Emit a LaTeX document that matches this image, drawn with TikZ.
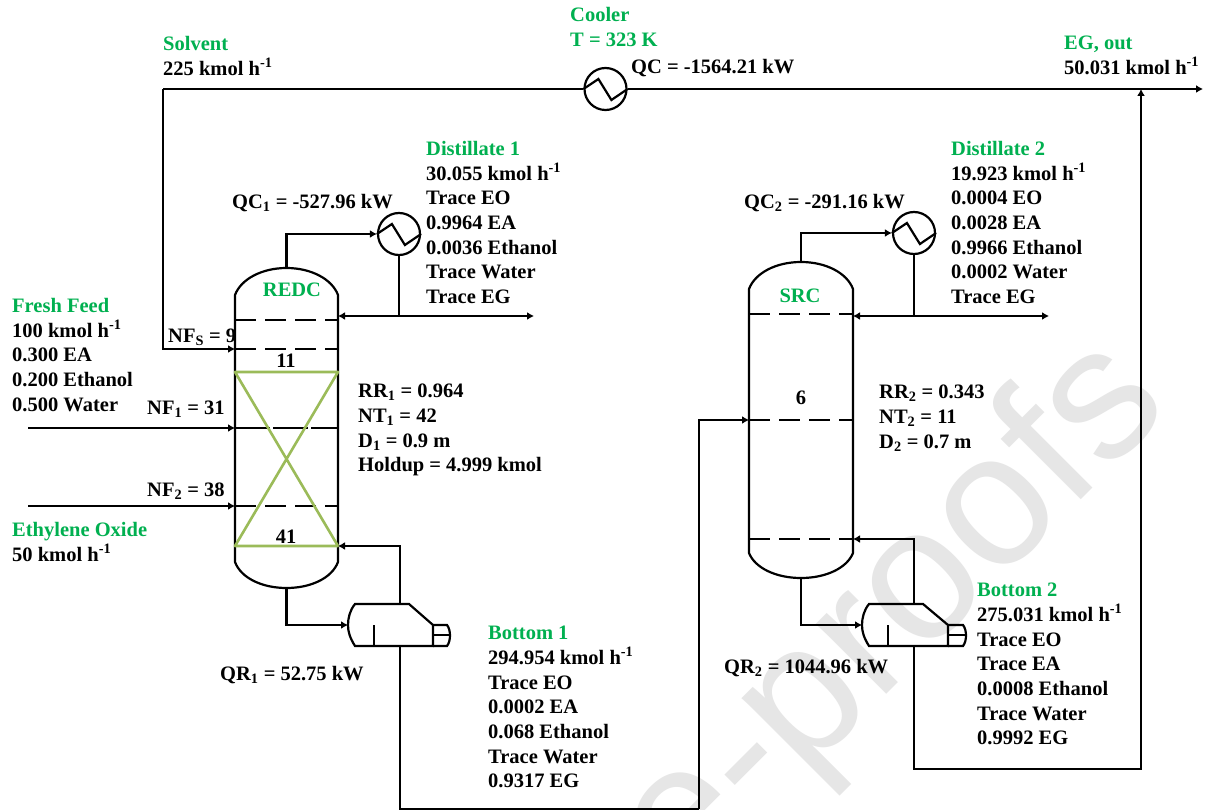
\documentclass[tikz,border=0pt]{standalone}
\usepackage{fontspec}
\usepackage{xcolor}
\setmainfont{Liberation Serif}
\setsansfont{Liberation Sans}
\usetikzlibrary{arrows.meta}
\definecolor{namegreen}{HTML}{00B050}
\definecolor{packgreen}{HTML}{9BBB59}
\definecolor{markgray}{HTML}{E6E6E6}
\tikzset{
  pipe/.style={line width=2.2pt,line join=miter},
  flow/.style={pipe,-{Latex[length=7pt,width=8pt]}},
  tray/.style={pipe,dash pattern=on 21pt off 9pt},
  packing/.style={line width=2.6pt,draw=packgreen,line join=round},
  exch/.style={circle,draw,line width=2.2pt,minimum size=42pt,inner sep=0pt},
  block/.style={anchor=north west,align=left,inner sep=0pt},
  tag/.style={anchor=west,inner sep=0pt},
  tagc/.style={inner sep=0pt},
}
\begin{document}
\begin{tikzpicture}[x=1pt,y=-1pt,every node/.style={font=\fontsize{20.5}{24.7}\selectfont\bfseries}]
\useasboundingbox (0,0) rectangle (1207,810);
\fill[white] (0,0) rectangle (1207,810);
\begin{scope}
\clip (0,0) rectangle (1207,810);
\node[anchor=base west,inner sep=0pt,text=markgray,rotate=45,font=\fontsize{188}{188}\selectfont\sffamily] (mark) at (685,896) {e-proofs};
\end{scope}
\coordinate (feedOne) at (28,428);
\coordinate (feedTwo) at (28,506);
\coordinate (redcL) at (235,295);
\coordinate (redcR) at (338,295);
\coordinate (redcTop) at (286.5,268);
\coordinate (redcBot) at (286.5,588);
\coordinate (redcRefl) at (338,316);
\coordinate (redcBoil) at (338,546);
\coordinate (redcSolv) at (235,349);
\coordinate (redcOne) at (235,428);
\coordinate (redcTwo) at (235,506);
\coordinate (srcTop) at (801,262);
\coordinate (srcBot) at (801,578);
\coordinate (srcRefl) at (853,316);
\coordinate (srcBoil) at (853,539);
\coordinate (srcFeed) at (749,420);
\coordinate (solvStart) at (163,89);
\coordinate (egEnd) at (1203,89);
\coordinate (distOne) at (534,316);
\coordinate (distTwo) at (1049,316);
\coordinate (rebOneIn) at (348,625);
\coordinate (rebOneTop) at (400,604);
\coordinate (rebOneBot) at (400,646);
\coordinate (rebTwoIn) at (862,625);
\coordinate (rebTwoTop) at (914,604);
\coordinate (rebTwoBot) at (914,646);
\coordinate (egJoin) at (1141,89);
\coordinate (linkCorner) at (699,809);
\node[exch] (cooler) at (605.5,89) {};
\node[exch] (condOne) at (399,234) {};
\node[exch] (condTwo) at (914,233) {};
\draw[pipe] (235,295) .. controls (241,279) and (262,268) .. (286.5,268) .. controls (311,268) and (332,279) .. (338,295) -- (338,562) .. controls (332,578) and (311,588) .. (286.5,588) .. controls (262,588) and (241,578) .. (235,562) -- cycle;
\draw[pipe] (749,289) .. controls (755,273) and (776,262) .. (801,262) .. controls (826,262) and (847,273) .. (853,289) -- (853,553) .. controls (847,568) and (826,578) .. (801,578) .. controls (776,578) and (755,568) .. (749,553) -- cycle;
\draw[tray] (235,320) -- (338,320);
\draw[tray] (235,349) -- (338,349);
\draw[pipe,dash pattern=on 35pt off 3pt] (235,428) -- (338,428);
\draw[tray] (235,506) -- (338,506);
\draw[tray] (749,314) -- (853,314);
\draw[tray] (749,420) -- (853,420);
\draw[tray] (749,539) -- (853,539);
\draw[packing] (235,372) -- (338,372) -- (235,546) -- (338,546) -- cycle;
\draw[pipe] (cooler.west) -- ++(15,-10) -- ++(13,21) -- (cooler.east);
\draw[pipe] (condOne.west) -- ++(15,-10) -- ++(13,21) -- (condOne.east);
\draw[pipe] (condTwo.west) -- ++(15,-10) -- ++(13,21) -- (condTwo.east);
\draw[flow] (solvStart) |- (redcSolv);
\draw[pipe] (solvStart) -- (cooler.west);
\draw[flow] (cooler.east) -- (egEnd);
\draw[flow] (feedOne) -- (redcOne);
\draw[flow] (feedTwo) -- (redcTwo);
\draw[flow] (redcTop) |- (condOne.west);
\draw[flow] (srcTop) |- (condTwo.west);
\draw[pipe] (condOne.south) -- (condOne.south |- distOne);
\draw[pipe] (condTwo.south) -- (condTwo.south |- distTwo);
\draw[flow] (condOne.south |- redcRefl) -- (redcRefl);
\draw[flow] (condOne.south |- distOne) -- (distOne);
\draw[flow] (condTwo.south |- srcRefl) -- (srcRefl);
\draw[flow] (condTwo.south |- distTwo) -- (distTwo);
\draw[pipe] (355,604) -- (409,604) -- (433,625) -- (433,646) -- (355,646) .. controls (350,638) and (348,632) .. (348,625) .. controls (348,618) and (350,610) .. (355,604) -- cycle;
\draw[pipe] (433,625) -- (447,625) .. controls (451,630) and (451,641) .. (447,646) -- (433,646);
\draw[pipe,line width=1.6pt] (433,635) -- (451,635);
\draw[pipe] (374,625) -- (374,646);
\draw[pipe] (869,604) -- (923,604) -- (948,625) -- (948,646) -- (869,646) .. controls (864,638) and (862,632) .. (862,625) .. controls (862,618) and (864,610) .. (869,604) -- cycle;
\draw[pipe] (948,625) -- (963,625) .. controls (967,630) and (967,641) .. (963,646) -- (948,646);
\draw[pipe,line width=1.6pt] (948,635) -- (966,635);
\draw[pipe] (888,625) -- (888,646);
\draw[flow] (redcBot) |- (rebOneIn);
\draw[flow] (rebOneTop) |- (redcBoil);
\draw[flow] (srcBot) |- (rebTwoIn);
\draw[flow] (rebTwoTop) |- (srcBoil);
\draw[pipe] (rebOneBot) |- (linkCorner);
\draw[flow] (linkCorner) |- (srcFeed);
\draw[flow] (rebTwoBot) |- (1141,769) -- (egJoin);
\node[block] (solvent) at (163,36) {\textcolor{namegreen}{Solvent}\\225 kmol h\textsuperscript{-1}};
\node[block] (coolerT) at (570,7) {\textcolor{namegreen}{Cooler}\\\textcolor{namegreen}{T = 323 K}};
\node[tag] (coolerQ) at (631,68) {QC = -1564.21 kW};
\node[block] (egOut) at (1064,36) {\textcolor{namegreen}{EG, out}\\50.031 kmol h\textsuperscript{-1}};
\node[block] (distillateOne) at (426,141) {\textcolor{namegreen}{Distillate 1}\\30.055 kmol h\textsuperscript{-1}\\Trace EO\\0.9964 EA\\0.0036 Ethanol\\Trace Water\\Trace EG};
\node[block] (distillateTwo) at (951,141) {\textcolor{namegreen}{Distillate 2}\\19.923 kmol h\textsuperscript{-1}\\0.0004 EO\\0.0028 EA\\0.9966 Ethanol\\0.0002 Water\\Trace EG};
\node[tag] (qcOne) at (232,203) {QC\textsubscript{1} = -527.96 kW};
\node[tag] (qcTwo) at (744,203) {QC\textsubscript{2} = -291.16 kW};
\node[tagc,text=namegreen] (redcName) at (292,290) {REDC};
\node[tagc,text=namegreen] (srcName) at (800,296) {SRC};
\node[block] (freshFeed) at (12,298) {\textcolor{namegreen}{Fresh Feed}\\100 kmol h\textsuperscript{-1}\\0.300 EA\\0.200 Ethanol\\0.500 Water};
\node[tag] (nfS) at (168,337) {NF\textsubscript{S} = 9};
\node[tagc] (stageEleven) at (286,361) {11};
\node[tag] (nfOne) at (147,409) {NF\textsubscript{1} = 31};
\node[tag] (nfTwo) at (147,491) {NF\textsubscript{2} = 38};
\node[tagc] (stageFortyOne) at (286,537) {41};
\node[block] (redcData) at (358,384) {RR\textsubscript{1} = 0.964\\NT\textsubscript{1} = 42\\D\textsubscript{1} = 0.9 m\\Holdup = 4.999 kmol};
\node[tagc] (stageSix) at (801,398) {6};
\node[block] (srcData) at (879,385) {RR\textsubscript{2} = 0.343\\NT\textsubscript{2} = 11\\D\textsubscript{2} = 0.7 m};
\node[block] (eoFeed) at (12,522) {\textcolor{namegreen}{Ethylene Oxide}\\50 kmol h\textsuperscript{-1}};
\node[block] (bottomOne) at (488,626) {\textcolor{namegreen}{Bottom 1}\\294.954 kmol h\textsuperscript{-1}\\Trace EO\\0.0002 EA\\0.068 Ethanol\\Trace Water\\0.9317 EG};
\node[block] (bottomTwo) at (977,583) {\textcolor{namegreen}{Bottom 2}\\275.031 kmol h\textsuperscript{-1}\\Trace EO\\Trace EA\\0.0008 Ethanol\\Trace Water\\0.9992 EG};
\node[tag] (qrOne) at (220,675) {QR\textsubscript{1} = 52.75 kW};
\node[tag] (qrTwo) at (724,668) {QR\textsubscript{2} = 1044.96 kW};
\end{tikzpicture}
\end{document}
